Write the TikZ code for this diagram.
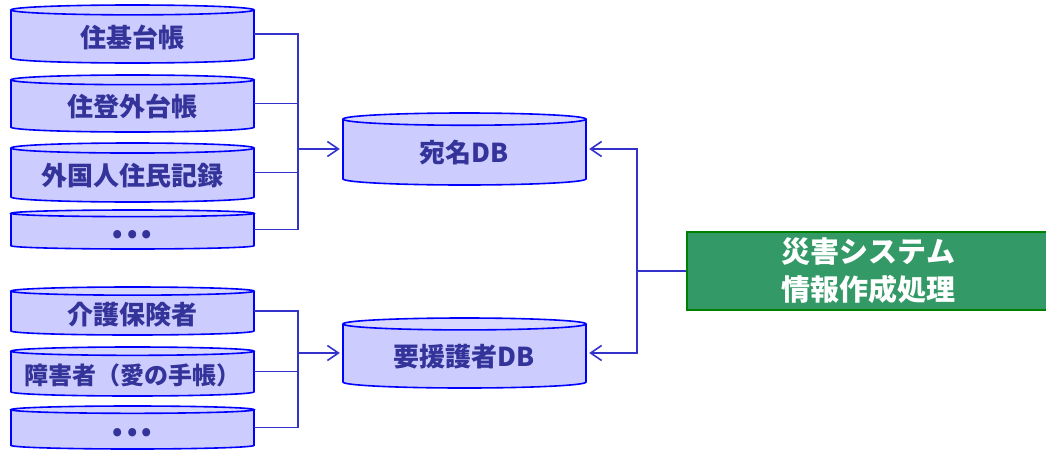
\documentclass[tikz,border=0pt]{standalone}
\usepackage{fontspec}
\setmainfont{Noto Sans CJK JP}
\usetikzlibrary{arrows.meta}

\definecolor{cylbodyc}{RGB}{204,204,255}
\definecolor{cyltopc}{RGB}{216,216,255}
\definecolor{cylline}{RGB}{0,0,255}
\definecolor{cylink}{RGB}{51,51,153}
\definecolor{wirec}{RGB}{51,51,204}
\definecolor{procfill}{RGB}{51,153,102}
\definecolor{procline}{RGB}{0,128,0}

\tikzset{
  cylbody/.style={fill=cylbodyc,draw=cylline,line width=1.6pt},
  cyltop/.style={fill=cyltopc,draw=cylline,line width=1.6pt},
  cyltext/.style={rectangle,inner sep=0pt,minimum width=243pt,
    text=cylink,font=\bfseries\fontsize{26}{30}\selectfont,
    text height=28pt,text depth=2pt},
  wire/.style={draw=wirec,line width=1.6pt},
  feed/.style={wire,-{Straight Barb[length=11pt,width=15pt,line width=1.6pt]},shorten >=3pt},
  procbox/.style={rectangle,fill=procfill,draw=procline,line width=2pt,
    minimum width=363pt,minimum height=78pt,inner sep=0pt,align=center,
    text=white,font=\bfseries\fontsize{29}{38}\selectfont},
}

% spaced ellipsis dots
\newcommand\moredots{•\hspace{4pt}•\hspace{4pt}•}

% database drum: #1 extra text options, #2 name, #3 centre x, #4 top y, #5 bottom y, #6 label
\newcommand\dbdrum[6][]{%
  \pgfmathsetmacro\drh{#5-#4}%
  \pgfmathsetmacro\drry{0.085*\drh}%
  \pgfmathsetmacro\drmid{-(#4+#5)/2}%
  \pgfmathsetmacro\drxl{#3-121.5}%
  \pgfmathsetmacro\drxr{#3+121.5}%
  \pgfmathsetmacro\drya{-(#4+\drry)}%
  \pgfmathsetmacro\dryb{-(#5-\drry)}%
  \path[cylbody] (\drxl,\drya) -- (\drxl,\dryb)
    arc[start angle=180,end angle=360,x radius=121.5pt,y radius=\drry pt]
    -- (\drxr,\drya);
  \path[cyltop] (#3,\drya) ellipse [x radius=121.5pt,y radius=\drry pt];
  \node[cyltext,minimum height=\drh pt,#1] (#2) at (#3,\drmid) {#6};
}

\begin{document}
\begin{tikzpicture}[x=1pt,y=1pt]
\useasboundingbox (0,0) rectangle (1046,-450);

% source registers, first group
\dbdrum{jk}{132.5}{5}{63}{住基台帳}
\dbdrum{jt}{132.5}{75}{132}{住登外台帳}
\dbdrum{gk}{132.5}{143}{202}{外国人住民記録}
\dbdrum{ea}{132.5}{210}{249}{\moredots}

% source registers, second group
\dbdrum{kh}{132.5}{287}{335}{介護保険者}
\dbdrum[font=\bfseries\fontsize{24}{30}\selectfont]{sh}{132.5}{347}{396}{障害者（愛の手帳）}
\dbdrum{eb}{132.5}{406}{449}{\moredots}

% merged databases
\dbdrum{adb}{464.5}{113}{185}{宛名DB}
\dbdrum{ydb}{464.5}{318}{388}{要援護者DB}

% processing box
\node[procbox] (proc) at (868.5,-271) {災害システム\\情報作成処理};

% bus positions
\coordinate (busA) at (298,0);
\coordinate (busB) at (637,0);

% first group into 宛名DB
\draw[wire] (jk.east) -| (busA |- ea.east) -- (ea.east);
\draw[wire] (jt.east) -- (jt.east -| busA);
\draw[wire] (gk.east) -- (gk.east -| busA);
\draw[feed] (busA |- adb.west) -- (adb.west);

% second group into 要援護者DB
\draw[wire] (kh.east) -| (busA |- eb.east) -- (eb.east);
\draw[wire] (sh.east) -- (sh.east -| busA);
\draw[feed] (busA |- ydb.west) -- (ydb.west);

% processing reads both databases
\draw[wire] (proc.west) -- (busB |- proc.west);
\draw[feed] (busB |- proc.west) |- (adb.east);
\draw[feed] (busB |- proc.west) |- (ydb.east);
\end{tikzpicture}
\end{document}
